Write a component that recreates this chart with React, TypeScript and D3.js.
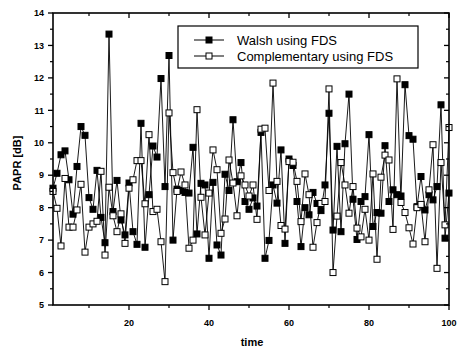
import React from "react";
import * as d3 from "d3";

const walsh: number[] = [
  8.6, 9.06, 9.63, 9.75, 8.86, 7.8, 9.27, 10.5, 10.23, 8.31,
  7.95, 9.15, 7.7, 6.92, 13.35, 7.88, 8.84, 7.62, 7.16, 8.76,
  7.26, 6.87, 10.6, 6.78, 8.4, 9.9, 9.56, 11.98, 8.65, 12.69,
  7.0, 8.57, 8.53, 8.47, 8.45, 9.86, 7.19, 8.75, 8.7, 6.44,
  8.78, 6.85, 6.54, 9.03, 8.53, 10.71, 8.8, 9.39, 8.19, 7.95,
  8.3, 8.05, 10.32, 6.44, 6.99, 8.7, 8.14, 9.78, 6.9, 9.5,
  9.3, 8.19, 6.8, 8.0, 7.78, 8.47, 8.13, 7.91, 8.7, 10.91,
  7.31, 9.89, 7.26, 9.97, 11.5, 8.26, 7.02, 8.19, 8.34, 10.25,
  7.42, 7.85, 7.83, 9.91, 8.19, 8.55, 8.4, 8.36, 11.79, 10.22,
  10.11, 8.03, 8.96, 7.93, 8.4, 8.24, 8.65, 11.17, 7.06, 8.45,
];

const complementary: number[] = [
  8.5, 7.98, 6.82, 8.9, 7.4, 7.4, 7.93, 8.72, 6.63, 7.4,
  7.5, 7.58, 9.12, 6.54, 8.63, 7.75, 7.26, 7.81, 6.9, 8.6,
  8.86, 9.45, 9.45, 8.12, 10.25, 7.88, 7.95, 6.95, 5.72, 10.92,
  9.08, 8.5, 9.1, 8.7, 6.75, 7.0, 11.02, 8.32, 7.16, 8.45,
  9.78, 9.17, 7.21, 7.65, 9.47, 8.76, 7.75, 8.98, 8.7, 8.36,
  8.7, 7.64, 10.42, 10.45, 8.53, 11.84, 8.81, 7.45, 7.34, 9.42,
  9.4, 8.81, 7.57, 9.04, 8.4, 6.78, 7.54, 8.13, 8.19, 11.66,
  6.0, 7.74, 9.39, 8.7, 7.83, 8.65, 7.37, 7.1, 7.95, 7.0,
  9.04, 6.41, 8.94, 9.62, 9.47, 7.33, 11.97, 8.16, 7.85, 7.38,
  6.88, 8.0, 8.1, 6.95, 8.55, 9.94, 6.13, 9.39, 7.47, 10.47,
];

const xMajorTicks = [20, 40, 60, 80, 100];
const xMinorTicks = [10, 30, 50, 70, 90];
const yMajorTicks = [5, 6, 7, 8, 9, 10, 11, 12, 13, 14];
const yMinorTicks = [5.5, 6.5, 7.5, 8.5, 9.5, 10.5, 11.5, 12.5, 13.5];
const seriesNames = ["Walsh using FDS", "Complementary using FDS"];
const xLabel = "time";
const yLabel = "PAPR [dB]";

const W = 461;
const H = 352;
const L = 53, R = 449, T = 13, B = 305;
const FONT = "'Liberation Sans', Arial, Helvetica, sans-serif";

export default function App() {
  const x = d3.scaleLinear().domain([1, 100]).range([L, R]);
  const y = d3.scaleLinear().domain([5, 14]).range([B, T]);
  const line = d3
    .line<number>()
    .x((_, i) => x(i + 1))
    .y((d) => y(d));
  const ms = 6;

  const series = [
    { data: walsh, fill: "#000" },
    { data: complementary, fill: "#fff" },
  ];

  return (
    <svg
      width={W}
      height={H}
      style={{ position: "absolute", left: 0, top: 0, background: "#fff" }}
      fontFamily={FONT}
    >
      <rect x={0} y={0} width={W} height={H} fill="#fff" />
      {series.map((s, si) => (
        <g key={si}>
          <path d={line(s.data) || ""} fill="none" stroke="#000" strokeWidth={0.9} />
          {s.data.map((v, i) => (
            <rect
              key={i}
              x={x(i + 1) - ms / 2}
              y={y(v) - ms / 2}
              width={ms}
              height={ms}
              fill={s.fill}
              stroke="#000"
              strokeWidth={1}
            />
          ))}
        </g>
      ))}
      <rect x={L} y={T} width={R - L} height={B - T} fill="none" stroke="#000" strokeWidth={1.6} />
      {xMajorTicks.map((t) => (
        <g key={"xM" + t}>
          <line x1={x(t)} x2={x(t)} y1={B} y2={B + 5} stroke="#000" strokeWidth={1.3} />
          <line x1={x(t)} x2={x(t)} y1={T} y2={T + 5} stroke="#000" strokeWidth={1.3} />
          <text x={x(t)} y={326} textAnchor="middle" fontSize={9} fontWeight="bold">
            {t}
          </text>
        </g>
      ))}
      {xMinorTicks.map((t) => (
        <g key={"xm" + t}>
          <line x1={x(t)} x2={x(t)} y1={B} y2={B + 3} stroke="#000" strokeWidth={1.2} />
          <line x1={x(t)} x2={x(t)} y1={T} y2={T + 3} stroke="#000" strokeWidth={1.2} />
        </g>
      ))}
      {yMajorTicks.map((t) => (
        <g key={"yM" + t}>
          <line x1={L - 5} x2={L} y1={y(t)} y2={y(t)} stroke="#000" strokeWidth={1.3} />
          <line x1={R - 5} x2={R} y1={y(t)} y2={y(t)} stroke="#000" strokeWidth={1.3} />
          <text x={44} y={y(t) + 3.2} textAnchor="end" fontSize={9} fontWeight="bold">
            {t}
          </text>
        </g>
      ))}
      {yMinorTicks.map((t) => (
        <g key={"ym" + t}>
          <line x1={L - 3} x2={L} y1={y(t)} y2={y(t)} stroke="#000" strokeWidth={1.2} />
          <line x1={R - 3} x2={R} y1={y(t)} y2={y(t)} stroke="#000" strokeWidth={1.2} />
        </g>
      ))}
      <text x={252} y={346} textAnchor="middle" fontSize={11} fontWeight="bold">
        {xLabel}
      </text>
      <text
        transform={`translate(21,${(T + B) / 2 + 4}) rotate(-90)`}
        textAnchor="middle"
        fontSize={11}
        fontWeight="bold"
      >
        {yLabel}
      </text>
      <rect x={178} y={26} width={240} height={42} fill="#fff" stroke="#000" strokeWidth={1.2} />
      {seriesNames.map((name, i) => {
        const ly = 40 + i * 16;
        return (
          <g key={name}>
            <line x1={194} x2={224} y1={ly} y2={ly} stroke="#000" strokeWidth={1} />
            <rect
              x={209 - ms / 2}
              y={ly - ms / 2}
              width={ms}
              height={ms}
              fill={i === 0 ? "#000" : "#fff"}
              stroke="#000"
              strokeWidth={1}
            />
            <text x={237} y={ly + 4.5} fontSize={13}>
              {name}
            </text>
          </g>
        );
      })}
    </svg>
  );
}
